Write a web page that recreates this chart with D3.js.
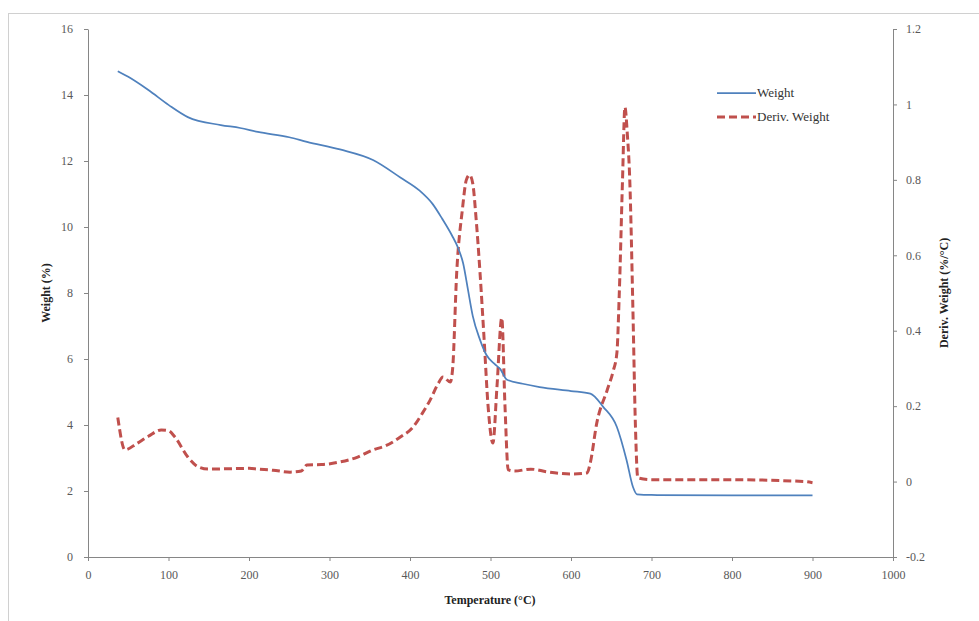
<!DOCTYPE html>
<html>
<head>
<meta charset="utf-8">
<title>TGA</title>
<style>
body { margin: 0; background: #fff; }
svg { display: block; }
.axis text { font-family: "Liberation Serif", "Times New Roman", serif; font-size: 12px; fill: #595959; }
.axis path, .axis line { stroke: #868686; }
.title { font-family: "Liberation Serif", "Times New Roman", serif; font-size: 12px; font-weight: bold; fill: #222; }
.legend text { font-family: "Liberation Serif", "Times New Roman", serif; font-size: 13px; fill: #333; }
</style>
</head>
<body>
<svg id="chart" width="979" height="621"></svg>

<script src="https://d3js.org/d3.v7.min.js"></script>
<script>
// Weight curve (temperature in C, weight in %)
var weightTemp = [37, 50, 75, 100, 124, 165, 189, 211, 250, 272, 313, 354, 388, 412, 428, 440, 452, 460, 466, 472, 478, 487, 495, 505, 512, 520, 540, 561, 600, 624, 640, 657, 669, 677, 682, 700, 800, 900];
var weightVal  = [14.72, 14.55, 14.15, 13.7, 13.33, 13.09, 13.0, 12.88, 12.72, 12.58, 12.35, 12.03, 11.5, 11.1, 10.7, 10.25, 9.75, 9.35, 8.9, 8.1, 7.3, 6.58, 6.12, 5.85, 5.7, 5.38, 5.25, 5.15, 5.03, 4.95, 4.55, 3.94, 2.94, 2.12, 1.9, 1.88, 1.87, 1.87];

// Derivative curve (temperature in C, %/C)
var derivTemp = [37, 46, 60, 75, 91, 100, 108, 124, 137, 150, 175, 200, 211, 230, 251, 265, 272, 290, 313, 335, 354, 370, 388, 404, 415, 425, 435, 441, 450, 453, 458, 465, 470, 474, 478, 482, 487, 492, 497, 503, 508, 514, 518, 522, 530, 550, 570, 600, 620, 624, 632, 645, 652, 657, 660, 664, 667, 670, 673, 677, 680, 683, 700, 800, 890, 900];
var derivVal  = [0.17, 0.084, 0.10, 0.12, 0.137, 0.135, 0.118, 0.065, 0.039, 0.033, 0.034, 0.035, 0.033, 0.03, 0.025, 0.028, 0.044, 0.045, 0.052, 0.065, 0.084, 0.095, 0.118, 0.145, 0.18, 0.216, 0.26, 0.277, 0.264, 0.3, 0.553, 0.72, 0.80, 0.813, 0.79, 0.70, 0.553, 0.38, 0.2, 0.102, 0.25, 0.434, 0.2, 0.031, 0.028, 0.033, 0.026, 0.02, 0.023, 0.05, 0.155, 0.243, 0.29, 0.341, 0.5, 0.8, 0.993, 0.92, 0.80, 0.447, 0.15, 0.01, 0.005, 0.005, 0.0, -0.003];

var xTicks = [0, 100, 200, 300, 400, 500, 600, 700, 800, 900, 1000];
var leftTicks = [0, 2, 4, 6, 8, 10, 12, 14, 16];
var rightTicks = [-0.2, 0, 0.2, 0.4, 0.6, 0.8, 1, 1.2];
var seriesNames = ["Weight", "Deriv. Weight"];

var svg = d3.select("#chart");

var x = d3.scaleLinear().domain([0, 1000]).range([88, 893]);
var yL = d3.scaleLinear().domain([0, 16]).range([557, 29]);
var yR = d3.scaleLinear().domain([-0.2, 1.2]).range([557, 29]);

// outer chart border
svg.append("rect")
  .attr("x", 8.5).attr("y", 13.5)
  .attr("width", 1000).attr("height", 700)
  .attr("fill", "none").attr("stroke", "#d0d0d0");

svg.append("g").attr("class", "axis")
  .attr("transform", "translate(0,557)")
  .call(d3.axisBottom(x).tickValues(xTicks).tickSize(4).tickSizeOuter(0).tickPadding(9).tickFormat(d3.format("d")));

svg.append("g").attr("class", "axis")
  .attr("transform", "translate(88,0)")
  .call(d3.axisLeft(yL).tickValues(leftTicks).tickSize(4).tickSizeOuter(0).tickPadding(11).tickFormat(d3.format("d")));

svg.append("g").attr("class", "axis")
  .attr("transform", "translate(893,0)")
  .call(d3.axisRight(yR).tickValues(rightTicks).tickSize(4).tickSizeOuter(0).tickPadding(9)
    .tickFormat(function(d) { return String(+d.toFixed(1)); }));

// axis titles
svg.append("text").attr("class", "title")
  .attr("x", 490).attr("y", 604).attr("text-anchor", "middle")
  .text("Temperature (°C)");

svg.append("text").attr("class", "title")
  .attr("transform", "translate(50,293) rotate(-90)").attr("text-anchor", "middle")
  .text("Weight (%)");

svg.append("text").attr("class", "title")
  .attr("transform", "translate(948,293) rotate(-90)").attr("text-anchor", "middle")
  .text("Deriv. Weight (%/°C)");

// lines
var weightData = weightTemp.map(function(t, i) { return [t, weightVal[i]]; });
var derivData = derivTemp.map(function(t, i) { return [t, derivVal[i]]; });

var weightLine = d3.line()
  .x(function(d) { return x(d[0]); })
  .y(function(d) { return yL(d[1]); })
  .curve(d3.curveMonotoneX);

var derivLine = d3.line()
  .x(function(d) { return x(d[0]); })
  .y(function(d) { return yR(d[1]); })
  .curve(d3.curveMonotoneX);

svg.append("path")
  .datum(derivData)
  .attr("d", derivLine)
  .attr("fill", "none")
  .attr("stroke", "#C0504D")
  .attr("stroke-width", 3)
  .attr("stroke-dasharray", "8,4");

svg.append("path")
  .datum(weightData)
  .attr("d", weightLine)
  .attr("fill", "none")
  .attr("stroke", "#4F81BD")
  .attr("stroke-width", 1.75);

// legend
var legend = svg.append("g").attr("class", "legend");
var legendStyles = [
  { color: "#4F81BD", width: 1.75, dash: null },
  { color: "#C0504D", width: 3, dash: "8,4" }
];
seriesNames.forEach(function(name, i) {
  var ly = 93 + i * 24;
  legend.append("line")
    .attr("x1", 717).attr("x2", 756)
    .attr("y1", ly).attr("y2", ly)
    .attr("stroke", legendStyles[i].color)
    .attr("stroke-width", legendStyles[i].width)
    .attr("stroke-dasharray", legendStyles[i].dash);
  legend.append("text")
    .attr("x", 757).attr("y", ly + 4)
    .text(name);
});
</script>
</body>
</html>
